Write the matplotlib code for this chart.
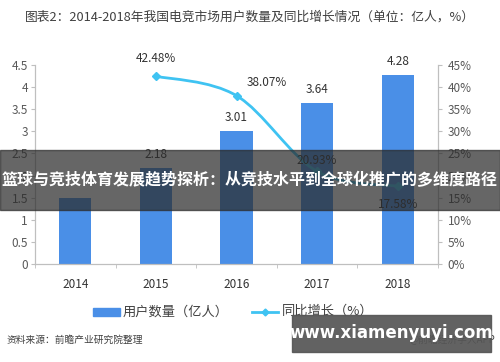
import numpy as np
import matplotlib.pyplot as plt
from matplotlib.path import Path
from matplotlib.patches import PathPatch, Rectangle

plt.rcParams['font.family'] = ['Noto Sans CJK SC', 'DejaVu Sans']

years = ['2014', '2015', '2016', '2017', '2018']
users = [1.5, 2.18, 3.01, 3.64, 4.28]
user_labels = ['', '2.18', '3.01', '3.64', '4.28']
growth_years = [1, 2, 3, 4]
growth = [42.48, 38.07, 20.93, 17.58]
growth_labels = ['42.48%', '38.07%', '20.93%', '17.58%']

bar_color = '#4a8fe7'
line_color = '#3fc3f2'
tick_color = '#595959'

fig = plt.figure(figsize=(5, 3.62), dpi=100)
ax = fig.add_axes([0.07, 0.2707, 0.806, 0.5497])
ax2 = ax.twinx()

x = np.arange(len(years))
ax.bar(x, users, width=0.4, color=bar_color, zorder=2)
for xi, v, lab in zip(x, users, user_labels):
    if lab:
        ax.annotate(lab, (xi, v), xytext=(0, 5), textcoords='offset points',
                    ha='center', va='bottom', fontsize=8.5, color='#333333')

ax.set_xlim(-0.5, 4.5)
ax.set_ylim(0, 4.5)
ax.set_yticks(np.arange(0, 4.6, 0.5))
ax.set_yticklabels(['0', '0.5', '1', '1.5', '2', '2.5', '3', '3.5', '4', '4.5'])
ax.set_xticks(x)
ax.set_xticklabels(years)
ax.set_xticks(np.arange(-0.5, 5, 1), minor=True)
ax.tick_params(axis='x', which='major', length=0, pad=10, labelsize=8.5, labelcolor='#333333')
ax.tick_params(axis='x', which='minor', length=3, color='#bfbfbf')
ax.tick_params(axis='y', length=3, color='#bfbfbf', labelsize=8.5, labelcolor=tick_color, pad=2)

ax2.set_ylim(0, 45)
ax2.set_yticks(np.arange(0, 46, 5))
ax2.set_yticklabels([f'{v}%' for v in range(0, 46, 5)])
ax2.tick_params(axis='y', length=3, color='#bfbfbf', labelsize=8.5, labelcolor=tick_color, pad=4)

for a in (ax, ax2):
    a.spines['top'].set_visible(False)
    for s in ('left', 'right', 'bottom'):
        a.spines[s].set_color('#bfbfbf')

# smooth line through the growth points (Catmull-Rom as bezier segments)
pts = np.column_stack([growth_years, growth]).astype(float)
verts = [tuple(pts[0])]
codes = [Path.MOVETO]
for i in range(len(pts) - 1):
    p0 = pts[i - 1] if i > 0 else pts[i]
    p1, p2 = pts[i], pts[i + 1]
    p3 = pts[i + 2] if i + 2 < len(pts) else pts[i + 1]
    c1 = p1 + (p2 - p0) / 6
    c2 = p2 - (p3 - p1) / 6
    verts += [tuple(c1), tuple(c2), tuple(p2)]
    codes += [Path.CURVE4] * 3
ax2.add_patch(PathPatch(Path(verts, codes), facecolor='none', edgecolor=line_color,
                        lw=2, zorder=3))
ax2.plot(growth_years, growth, ls='none', marker='D', ms=4, color=line_color, zorder=4)

offsets = [(0, 8), (22, 5), (0, 3), (0, -18)]
for xi, v, lab, off in zip(growth_years, growth, growth_labels, offsets):
    ax2.annotate(lab, (xi, v), xytext=off, textcoords='offset points',
                 ha='center', va='bottom', fontsize=8.5, color='#333333', zorder=5)

fig.text(0.05, 0.953, '图表2：2014-2018年我国电竞市场用户数量及同比增长情况（单位：亿人，%）',
         fontsize=9.2, color='#404040', va='center', ha='left')

# legend
fig.patches.append(Rectangle((0.186, 0.128), 0.054, 0.022, transform=fig.transFigure,
                             color=bar_color))
fig.text(0.246, 0.139, '用户数量（亿人）', fontsize=9.5, color='#404040', va='center')
fig.lines.append(plt.Line2D([0.504, 0.556], [0.139, 0.139], transform=fig.transFigure,
                            color=line_color, lw=2))
fig.lines.append(plt.Line2D([0.53], [0.139], transform=fig.transFigure, color=line_color,
                            marker='D', ms=3.5))
fig.text(0.564, 0.139, '同比增长（%）', fontsize=9.5, color='#404040', va='center')

fig.text(0.014, 0.06, '资料来源：前瞻产业研究院整理', fontsize=7, color='#404040',
         style='italic', va='center')
fig.text(0.99, 0.06, '@前瞻经济学人APP', fontsize=7, color='#404040', ha='right', va='center')

# overlay banner
fig.patches.append(Rectangle((0, 0.42), 1, 0.166, transform=fig.transFigure,
                             color='#2b2b2b', alpha=0.72, zorder=10))
fig.text(0.5, 0.503, '篮球与竞技体育发展趋势探析：从竞技水平到全球化推广的多维度路径',
         fontsize=11.5, fontweight='bold', color='white', ha='center', va='center', zorder=11)

# watermark box
fig.patches.append(Rectangle((0.584, 0.028), 0.398, 0.102, transform=fig.transFigure,
                             color='#555555', alpha=0.92, zorder=10))
fig.text(0.783, 0.079, 'www.xiamenyuyi.com', fontsize=12, fontweight='bold', color='white',
         ha='center', va='center', zorder=11, family='DejaVu Sans')

fig.savefig('out.png', dpi=100)
